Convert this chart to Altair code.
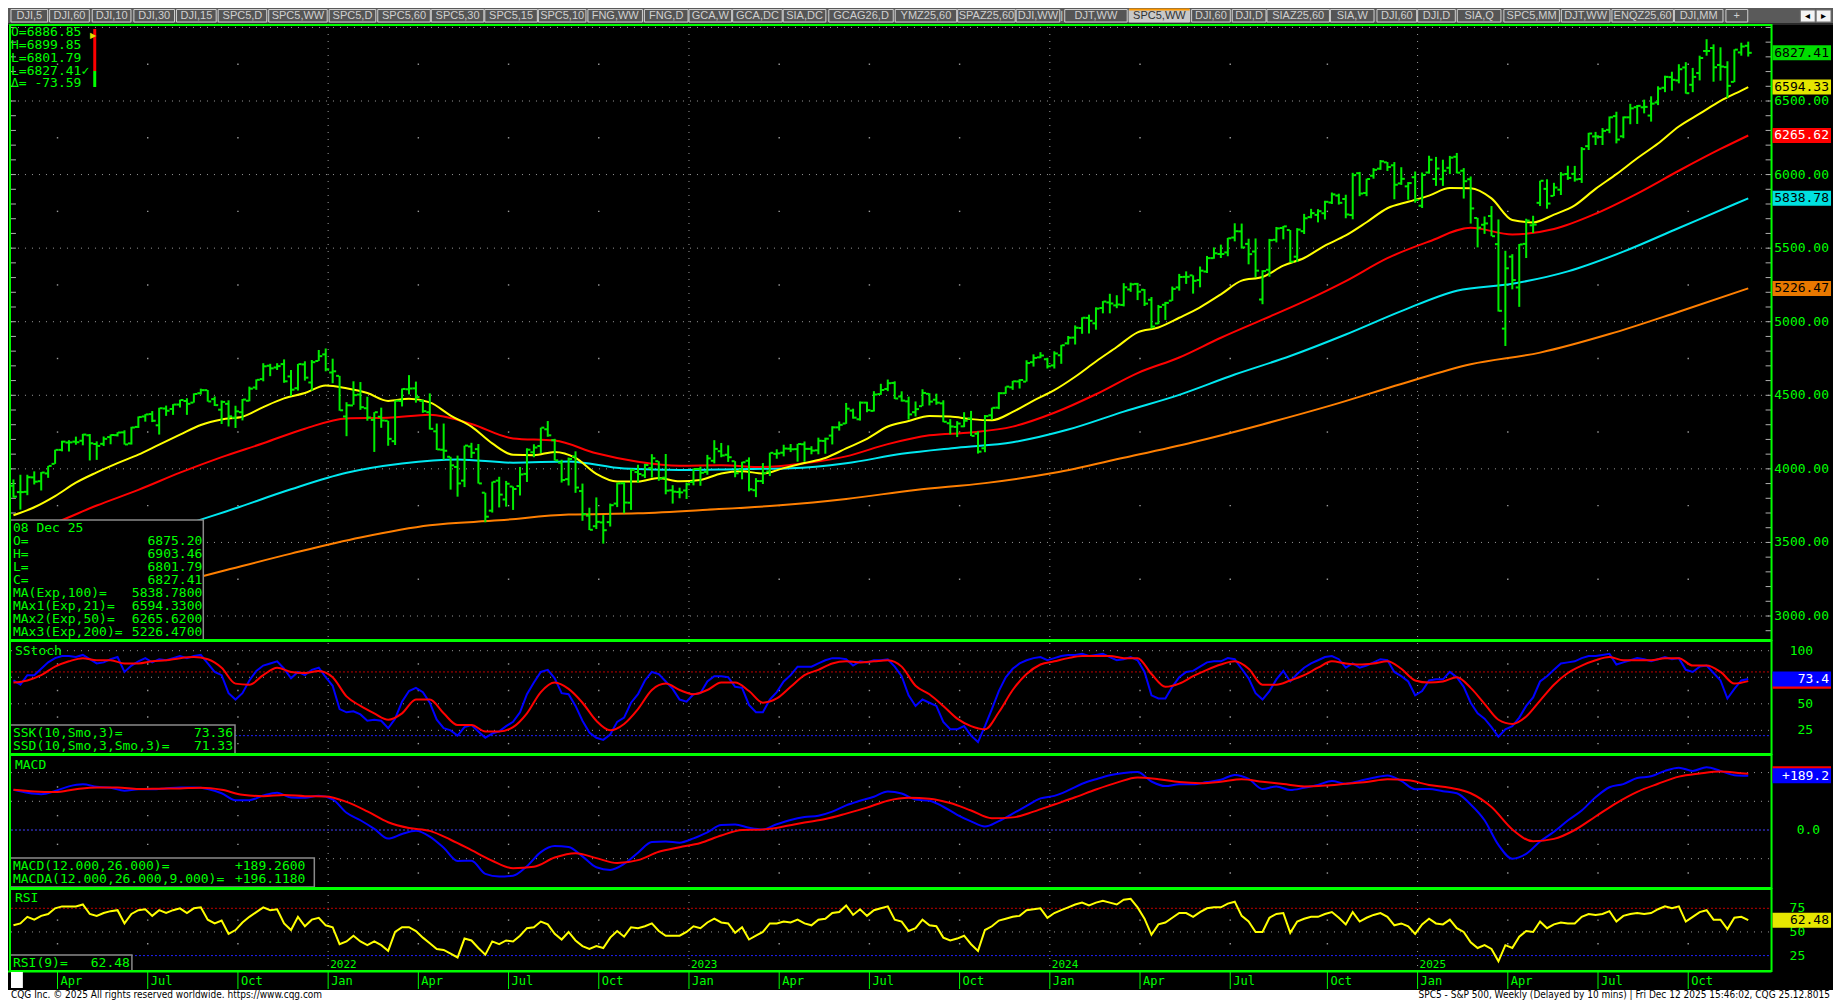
import pandas as pd
import altair as alt

# ---------------- weekly S&P 500 bars (week of 2021-02-22 ... week of 2025-12-08) ----------------
first_week = "2021-02-22"
opens = [3885, 3842, 3844, 3942, 3916, 3969, 4034, 4129, 4179, 4185,
         4191, 4228, 4169, 4170, 4216, 4229, 4248, 4173, 4285, 4356,
         4372, 4296, 4410, 4407, 4437, 4461, 4450, 4514, 4535, 4474,
         4402, 4442, 4348, 4385, 4463, 4553, 4610, 4701, 4689, 4712,
         4628, 4548, 4710, 4587, 4733,
         4778, 4655, 4632, 4356, 4431, 4505, 4412, 4333, 4354, 4327,
         4188, 4462, 4541, 4547, 4462, 4385, 4255, 4130, 4082, 4013,
         3920, 4152, 4134, 3838, 3716, 3920, 3792, 3880, 3883, 3966,
         4113, 4155, 4269, 4195, 4042, 3930, 4084, 3849, 3682, 3610,
         3636, 3638, 3764, 3902, 3770, 3978, 3956, 4005, 4052, 3940,
         3854, 3843,
         3853, 3911, 3999, 3979, 4055, 4120, 4096, 4052, 3992, 4055,
         3855, 3917, 3982, 4102, 4110, 4137, 4134, 4167, 4136, 4126,
         4190, 4226, 4282, 4308, 4396, 4337, 4450, 4394, 4508, 4543,
         4584, 4492, 4459, 4385, 4426, 4510, 4470, 4445, 4310, 4285,
         4289, 4343, 4239, 4140, 4364, 4416, 4514, 4554, 4594, 4593,
         4725, 4758,
         4745, 4703, 4772, 4853, 4892, 4957, 5026, 4989, 5093, 5131,
         5111, 5114, 5219, 5257, 5217, 5149, 4988, 5115, 5143, 5233,
         5305, 5315, 5283, 5341, 5432, 5460, 5471, 5572, 5614, 5529,
         5477, 5151, 5353, 5557, 5637, 5623, 5442, 5615, 5711, 5726,
         5737, 5810, 5857, 5834, 5725, 6009, 5875, 5992, 6040, 6083,
         6063, 5940, 5920,
         5982, 5788, 6014, 5970, 5969, 6046, 6121, 6026, 5968, 5705,
         5659, 5718, 5527, 4953, 5442, 5233, 5529, 5655, 5808, 5903,
         5855, 5897, 6004, 6005, 5970, 6193, 6259, 6256, 6304, 6397,
         6260, 6389, 6458, 6457, 6401, 6490, 6590, 6662, 6640, 6728,
         6610, 6690, 6840, 6860, 6745, 6730, 6630, 6830, 6875.20]
highs = [3928, 3960, 3960, 3983, 3978, 4020, 4130, 4191, 4195, 4219,
         4238, 4237, 4187, 4220, 4234, 4249, 4262, 4286, 4356, 4372,
         4393, 4415, 4430, 4440, 4470, 4480, 4513, 4545, 4536, 4492,
         4465, 4466, 4429, 4475, 4559, 4608, 4718, 4714, 4718, 4744,
         4672, 4713, 4731, 4740, 4808,
         4818, 4749, 4632, 4453, 4595, 4590, 4490, 4385, 4416, 4327,
         4465, 4546, 4637, 4593, 4471, 4513, 4308, 4308, 4082, 4090,
         4158, 4177, 4169, 3838, 3913, 3946, 3918, 3880, 4013, 4140,
         4167, 4280, 4325, 4204, 4062, 4077, 4119, 3900, 3736, 3806,
         3686, 3764, 3905, 3911, 4001, 4028, 4034, 4100, 4052, 4101,
         3889, 3872,
         3907, 4003, 4015, 4095, 4195, 4176, 4160, 4052, 4048, 4078,
         3937, 4039, 4110, 4133, 4164, 4169, 4170, 4186, 4154, 4212,
         4212, 4290, 4322, 4448, 4409, 4458, 4456, 4528, 4578, 4607,
         4595, 4527, 4491, 4458, 4541, 4514, 4511, 4466, 4338, 4324,
         4385, 4394, 4255, 4366, 4416, 4521, 4560, 4598, 4610, 4738,
         4778, 4793,
         4755, 4799, 4843, 4903, 4975, 5030, 5048, 5098, 5140, 5190,
         5180, 5262, 5265, 5264, 5222, 5168, 5114, 5135, 5239, 5325,
         5342, 5315, 5375, 5447, 5505, 5524, 5570, 5669, 5667, 5564,
         5566, 5350, 5563, 5644, 5651, 5623, 5636, 5733, 5767, 5765,
         5822, 5878, 5870, 5863, 6012, 6018, 5972, 6044, 6099, 6085,
         6085, 6050, 5949,
         6021, 6014, 6128, 6120, 6101, 6127, 6147, 6044, 5987, 5706,
         5715, 5786, 5695, 5482, 5459, 5528, 5700, 5720, 5958, 5968,
         5944, 6017, 6060, 6059, 6187, 6284, 6290, 6316, 6395, 6427,
         6395, 6481, 6473, 6509, 6532, 6600, 6672, 6699, 6750, 6764,
         6725, 6808, 6920, 6885, 6865, 6770, 6851, 6896, 6903.46]
lows = [3805, 3723, 3821, 3894, 3853, 3939, 4034, 4119, 4118, 4164,
        4160, 4057, 4061, 4155, 4167, 4220, 4165, 4165, 4278, 4321,
        4318, 4233, 4360, 4367, 4417, 4367, 4450, 4505, 4457, 4427,
        4305, 4288, 4278, 4329, 4459, 4537, 4595, 4630, 4672, 4585,
        4495, 4532, 4600, 4531, 4733,
        4663, 4582, 4395, 4222, 4435, 4401, 4327, 4115, 4279, 4157,
        4162, 4424, 4506, 4450, 4381, 4267, 4128, 4062, 3859, 3811,
        3876, 4073, 3900, 3637, 3703, 3738, 3743, 3721, 3819, 3911,
        4079, 4107, 4218, 4057, 3907, 3887, 3837, 3647, 3584, 3591,
        3492, 3608, 3740, 3698, 3721, 3906, 3938, 3940, 3919, 3827,
        3764, 3800,
        3795, 3888, 3885, 3960, 4037, 4079, 4047, 3943, 3929, 3847,
        3808, 3897, 3951, 4069, 4085, 4114, 4049, 4048, 4099, 4099,
        4103, 4166, 4260, 4306, 4341, 4328, 4385, 4390, 4503, 4528,
        4474, 4457, 4335, 4356, 4426, 4431, 4436, 4317, 4235, 4216,
        4283, 4223, 4104, 4113, 4335, 4406, 4510, 4537, 4546, 4593,
        4695, 4752,
        4682, 4682, 4714, 4845, 4845, 4918, 4920, 4946, 5057, 5057,
        5092, 5104, 5203, 5147, 5107, 4953, 4983, 5012, 5142, 5211,
        5257, 5191, 5234, 5331, 5428, 5433, 5445, 5546, 5497, 5390,
        5302, 5119, 5306, 5539, 5560, 5403, 5406, 5596, 5703, 5675,
        5695, 5800, 5796, 5703, 5696, 5853, 5853, 5972, 6032, 6024,
        5832, 5930, 5829,
        5809, 5773, 6006, 5923, 5923, 6003, 6008, 5837, 5667, 5505,
        5597, 5581, 5069, 4835, 5220, 5101, 5433, 5603, 5786, 5768,
        5854, 5861, 5964, 5952, 5943, 6167, 6201, 6201, 6281, 6212,
        6247, 6342, 6344, 6416, 6360, 6472, 6560, 6570, 6620, 6550,
        6560, 6640, 6808, 6631, 6638, 6521, 6628, 6808, 6801.79]
closes = [3811, 3842, 3943, 3913, 3975, 4020, 4129, 4185, 4180, 4181,
          4233, 4174, 4156, 4204, 4230, 4247, 4166, 4281, 4352, 4370,
          4327, 4412, 4395, 4437, 4468, 4442, 4509, 4535, 4458, 4433,
          4455, 4357, 4391, 4471, 4545, 4605, 4697, 4683, 4698, 4595,
          4538, 4712, 4620, 4725, 4766,
          4677, 4663, 4398, 4432, 4501, 4419, 4349, 4385, 4329, 4204,
          4463, 4543, 4546, 4488, 4392, 4272, 4132, 4123, 4024, 3901,
          4158, 4109, 3901, 3675, 3912, 3825, 3899, 3863, 3962, 4130,
          4145, 4280, 4228, 4058, 3924, 4067, 3873, 3693, 3586, 3640,
          3583, 3753, 3901, 3771, 3993, 3965, 4026, 4072, 3934, 3852,
          3845, 3840,
          3895, 3999, 3973, 4071, 4136, 4091, 4079, 3970, 4045, 3861,
          3917, 3971, 4109, 4105, 4138, 4133, 4169, 4136, 4124, 4191,
          4205, 4282, 4299, 4409, 4348, 4450, 4399, 4505, 4536, 4582,
          4478, 4464, 4370, 4406, 4516, 4457, 4450, 4320, 4288, 4308,
          4327, 4224, 4117, 4358, 4415, 4514, 4559, 4595, 4604, 4719,
          4754, 4770,
          4697, 4784, 4840, 4891, 4959, 5027, 5006, 5089, 5137, 5124,
          5117, 5234, 5254, 5204, 5123, 4967, 5100, 5128, 5223, 5304,
          5305, 5278, 5347, 5432, 5465, 5460, 5567, 5615, 5505, 5459,
          5347, 5344, 5554, 5634, 5648, 5408, 5626, 5703, 5738, 5751,
          5815, 5865, 5808, 5729, 5996, 5871, 5970, 6032, 6090, 6051,
          5931, 5971, 5942,
          5827, 5997, 6101, 6041, 6026, 6115, 6013, 5955, 5770, 5639,
          5668, 5581, 5074, 5363, 5283, 5525, 5687, 5660, 5958, 5803,
          5912, 6000, 5977, 5967, 6173, 6279, 6260, 6297, 6389, 6238,
          6389, 6450, 6467, 6460, 6482, 6584, 6664, 6644, 6716, 6553,
          6664, 6792, 6840, 6729, 6734, 6603, 6849, 6870, 6827.41]

# ---------------- moving averages (values along the drawn lines) ----------------
ma21_week = list(range(0, 250, 3)) + [250]
ma21 = [3685, 3739, 3815, 3906, 3976, 4039, 4097, 4165, 4232, 4298,
        4336, 4354, 4420, 4479, 4515, 4567, 4548, 4515, 4462, 4476,
        4452, 4362, 4287, 4173, 4096, 4093, 4115, 4075, 3966, 3914,
        3914, 3938, 3915, 3925, 3969, 3984, 3968, 4005, 4040, 4074,
        4139, 4204, 4288, 4325, 4359, 4356, 4338, 4330, 4387, 4464,
        4535, 4626, 4730, 4828, 4928, 4961, 5027, 5098, 5186, 5279,
        5304, 5381, 5433, 5517, 5586, 5676, 5771, 5815, 5857, 5908,
        5907, 5838, 5691, 5675, 5728, 5791, 5903, 6003, 6111, 6211,
        6327, 6414, 6501, 6571, 6594.33]
ma50_week = list(range(0, 250, 6)) + [250]
ma50 = [3540, 3633, 3751, 3857, 3974, 4080, 4174, 4273, 4343, 4347,
        4368, 4305, 4207, 4192, 4106, 4048, 4021, 4024, 4012, 4038,
        4085, 4168, 4228, 4247, 4287, 4381, 4507, 4651, 4757, 4891,
        5014, 5138, 5276, 5432, 5545, 5638, 5593, 5630, 5734, 5871,
        6026, 6174, 6265.62]
ma100_week = list(range(0, 250, 8)) + [250]
ma100 = [3230, 3348, 3474, 3608, 3732, 3861, 3973, 4036, 4064, 4042,
         4050, 4002, 3993, 3998, 4004, 4038, 4102, 4144, 4181, 4267,
         4389, 4503, 4641, 4767, 4913, 5072, 5211, 5258, 5342, 5476,
         5637, 5798, 5838.78]
ma200_week = list(range(0, 251, 10))
ma200 = [2966, 3070, 3183, 3304, 3424, 3534, 3617, 3650, 3689, 3698,
         3722, 3751, 3795, 3857, 3903, 3973, 4075, 4181, 4302, 4433,
         4577, 4711, 4790, 4916, 5068, 5226.47]

# ---------------- studies ----------------
ssk = [72, 68, 77, 77, 83, 89, 93, 95, 95, 94, 96, 92, 88, 89, 92, 94, 80, 86, 90, 93,
       89, 92, 91, 93, 95, 93, 95, 96, 88, 80, 77, 60, 54, 60, 72, 81, 86, 88, 90, 83,
       74, 80, 77, 82, 84, 75, 67, 45, 42, 43, 40, 34, 35, 34, 27, 36, 52, 62, 65, 61,
       51, 35, 27, 25, 20, 28, 30, 24, 18, 22, 24, 29, 33, 42, 59, 70, 80, 82, 74, 60,
       59, 48, 34, 23, 18, 16, 21, 33, 37, 51, 59, 72, 80, 78, 71, 64, 54, 52, 59, 60,
       71, 76, 76, 75, 66, 65, 49, 42, 42, 54, 61, 71, 77, 85, 85, 85, 88, 91, 93, 93,
       92, 86, 90, 89, 91, 91, 92, 85, 76, 58, 48, 54, 51, 48, 33, 26, 26, 29, 20, 14,
       29, 45, 62, 75, 83, 88, 91, 93, 94, 91, 93, 95, 96, 96, 97, 95, 96, 97, 94, 91,
       92, 94, 91, 80, 58, 55, 55, 66, 75, 80, 81, 85, 89, 90, 90, 93, 92, 83, 74, 60,
       54, 62, 73, 81, 71, 78, 84, 88, 91, 94, 95, 92, 84, 88, 84, 86, 89, 92, 91, 80,
       76, 71, 58, 62, 72, 73, 73, 80, 75, 66, 51, 41, 36, 28, 19, 26, 29, 37, 48, 56,
       71, 76, 82, 88, 89, 90, 93, 95, 95, 96, 97, 87, 89, 91, 93, 92, 90, 92, 94, 92,
       93, 82, 80, 85, 86, 79, 72, 55, 64, 72, 73.36]
ssd_week = list(range(0, 251, 2))
ssd = [70, 72, 77, 85, 90, 93, 91, 91, 88, 88, 90, 91, 93, 94, 92, 84, 69, 68, 77, 84,
       80, 79, 81, 75, 57, 48, 41, 35, 41, 54, 54, 41, 30, 30, 24, 24, 28, 41, 61, 70,
       64, 51, 34, 25, 31, 45, 63, 69, 63, 59, 63, 70, 70, 62, 51, 55, 66, 77, 82, 88,
       90, 89, 90, 91, 85, 67, 59, 48, 36, 29, 26, 42, 63, 78, 87, 90, 93, 95, 95, 95,
       93, 93, 78, 66, 69, 76, 82, 87, 90, 83, 68, 68, 72, 77, 84, 90, 88, 87, 88, 90,
       83, 72, 70, 71, 75, 65, 50, 35, 31, 38, 53, 68, 79, 86, 91, 94, 91, 91, 91, 93,
       93, 86, 86, 80, 69, 71.33]
macd_week = list(range(0, 251, 2))
macd = [140, 130, 125, 136, 152, 159, 151, 147, 137, 142, 142, 145, 148, 148, 143, 128,
        104, 104, 120, 130, 113, 112, 119, 107, 60, 34, 4, -30, -14, -3, -23, -62,
        -108, -107, -153, -162, -159, -126, -77, -56, -59, -92, -130, -139, -118, -79,
        -42, -40, -44, -29, -8, 17, 19, 8, 2, 20, 35, 45, 50, 64, 86, 102, 116, 134,
        127, 106, 102, 81, 53, 30, 12, 31, 57, 84, 110, 119, 138, 161, 177, 191, 199,
        202, 169, 153, 159, 159, 167, 175, 192, 178, 143, 152, 139, 147, 157, 171, 161,
        171, 182, 190, 171, 142, 143, 135, 128, 89, 34, -52, -100, -83, -40, -6, 33, 68,
        114, 149, 160, 181, 187, 206, 217, 206, 219, 206, 191, 189.26]
macda_week = list(range(0, 250, 3)) + [250]
macda = [140, 134, 132, 142, 148, 148, 143, 144, 145, 147, 140, 123, 118, 122, 118, 117,
         98, 65, 27, 7, -3, -34, -70, -107, -133, -128, -96, -81, -98, -115, -105, -76,
         -60, -45, -19, 0, 2, 12, 26, 38, 57, 78, 102, 112, 109, 94, 68, 41, 44, 64, 89,
         114, 141, 165, 183, 177, 167, 163, 168, 177, 168, 160, 152, 155, 161, 167, 177,
         173, 157, 147, 128, 80, 2, -39, -31, 0, 47, 94, 133, 161, 186, 197, 204, 198,
         196.118]
rsi9 = [57, 59, 66, 63, 67, 69, 75, 77, 77, 77, 79, 69, 67, 70, 72, 73, 59, 69, 73, 74,
        67, 73, 70, 73, 75, 70, 75, 76, 63, 59, 62, 48, 52, 60, 66, 71, 76, 73, 74, 59,
        52, 66, 56, 63, 65, 57, 55, 37, 40, 46, 40, 36, 40, 36, 30, 50, 55, 55, 51, 44,
        38, 32, 31, 27, 23, 43, 41, 33, 26, 40, 37, 41, 40, 46, 54, 55, 61, 58, 48, 42,
        50, 41, 35, 32, 35, 33, 44, 51, 45, 55, 54, 56, 59, 51, 46, 46, 46, 50, 56, 54,
        60, 64, 60, 59, 49, 55, 42, 46, 50, 59, 59, 61, 60, 63, 59, 57, 63, 64, 70, 71,
        78, 68, 74, 67, 73, 75, 77, 63, 61, 51, 54, 63, 57, 56, 44, 41, 43, 46, 37, 30,
        52, 56, 62, 64, 66, 67, 73, 74, 75, 65, 70, 73, 76, 79, 81, 78, 81, 83, 81, 79,
        84, 85, 76, 64, 47, 58, 60, 65, 70, 70, 66, 71, 75, 76, 76, 80, 82, 67, 61, 50,
        50, 65, 69, 70, 49, 61, 64, 66, 66, 69, 71, 65, 58, 71, 61, 65, 68, 70, 66, 57,
        59, 56, 48, 58, 64, 59, 58, 63, 54, 50, 39, 33, 36, 32, 19, 36, 33, 45, 51, 50,
        61, 54, 58, 60, 59, 59, 66, 69, 68, 69, 72, 61, 67, 69, 70, 69, 70, 74, 77, 75,
        77, 61, 66, 71, 73, 63, 63, 53, 65, 66, 62.48]

# ---------------- scale labels ----------------
price_ticks = [6500, 6000, 5500, 5000, 4500, 4000, 3500, 3000]
price_tick_text = ["6500.00", "6000.00", "5500.00", "5000.00", "4500.00", "4000.00", "3500.00", "3000.00"]
last_price_values = [6827.41, 6594.33, 6265.62, 5838.78, 5226.47]
last_price_text = ["6827.41", "6594.33", "6265.62", "5838.78", "5226.47"]

n = len(closes)

# ---------------- layout ----------------
W, HT = 1825, 992
XS = W / 1841.0
def X(rx): return rx * XS
def Y(ry): return ry - 8.0

GREEN = "#00ff00"
BAR = "#00ee00"
GRID = "#9a9a9a"
MONO = "DejaVu Sans Mono"

xsc = alt.Scale(domain=[0, 250], range=[X(5.5), X(1755.5)], nice=False, zero=False)
psc = alt.Scale(domain=[3000, 6500], range=[Y(616), Y(101)], nice=False, zero=False)
ssc = alt.Scale(domain=[0, 100], range=[Y(756.9), Y(650.7)], nice=False, zero=False)
msc = alt.Scale(domain=[0, 200], range=[Y(830), Y(772.6)], nice=False, zero=False)
rsc = alt.Scale(domain=[25, 75], range=[Y(955.6), Y(908.3)], nice=False, zero=False)

def XI(f="i"): return alt.X(f"{f}:Q", scale=xsc, axis=None)
def YS(f, sc): return alt.Y(f"{f}:Q", scale=sc, axis=None)

def px_rects(rows, **mk):
    df = pd.DataFrame(rows, columns=["x1", "x2", "y1", "y2", "f"])
    return alt.Chart(df).mark_rect(**mk).encode(
        x=alt.X("x1:Q", scale=None), x2="x2:Q",
        y=alt.Y("y1:Q", scale=None), y2="y2:Q",
        color=alt.Color("f:N", scale=None))

def px_texts(rows, **mk):
    df = pd.DataFrame(rows, columns=["t", "x", "y"])
    return alt.Chart(df).mark_text(baseline="middle", **mk).encode(
        x=alt.X("x:Q", scale=None), y=alt.Y("y:Q", scale=None), text="t:N")

def px_rules(rows, **mk):
    df = pd.DataFrame(rows, columns=["x1", "x2", "y1", "y2"])
    return alt.Chart(df).mark_rule(**mk).encode(
        x=alt.X("x1:Q", scale=None), x2="x2:Q",
        y=alt.Y("y1:Q", scale=None), y2="y2:Q")

layers = []

# ---- tab bar ----
TAB_LABELS = ["DJI,5", "DJI,60", "DJI,10", "DJI,30", "DJI,15", "SPC5,D", "SPC5,WW", "SPC5,D",
              "SPC5,60", "SPC5,30", "SPC5,15", "SPC5,10", "FNG,WW", "FNG,D", "GCA,W", "GCA,DC",
              "SIA,DC", "GCAG26,D", "YMZ25,60", "SPAZ25,60", "DJI,WW", "DJT,WW", "SPC5,WW",
              "DJI,60", "DJI,D", "SIAZ25,60", "SIA,W", "DJI,60", "DJI,D", "SIA,Q", "SPC5,MM",
              "DJT,WW", "ENQZ25,60", "DJI,MM", "+"]
TAB_LEFT = [3, 42, 85, 127, 170, 212, 263, 324, 373, 427, 481, 535, 585, 642, 687, 731, 782, 828,
            895, 958, 1017, 1066, 1131, 1194, 1235, 1270, 1334, 1381, 1422, 1462, 1509, 1567,
            1618, 1681, 1733]
TAB_RIGHT = [40, 82, 124, 168, 210, 261, 322, 371, 426, 480, 534, 583, 640, 686, 730, 781, 825,
             893, 957, 1016, 1061, 1129, 1192, 1233, 1269, 1333, 1378, 1421, 1460, 1506, 1565,
             1616, 1680, 1730, 1755]
SELECTED = 22
layers.append(px_rects([(0, W, 0, 16, "#5a5a5a")]))
tab_rows = [(X(a), X(b), 1.5, 14, "#c8c8c8" if k == SELECTED else "#555555")
            for k, (a, b) in enumerate(zip(TAB_LEFT, TAB_RIGHT))]
layers.append(px_rects(tab_rows, stroke="#d0d0d0", strokeWidth=1))
layers.append(px_rules([(X(TAB_LEFT[SELECTED]), X(TAB_RIGHT[SELECTED]), 1.5, 1.5)], color="#ff9900", strokeWidth=2))
layers.append(px_texts([(t, X((a + b) / 2), 8) for k, (t, a, b) in
                        enumerate(zip(TAB_LABELS, TAB_LEFT, TAB_RIGHT)) if k != SELECTED],
                       align="center", font="Liberation Sans", fontSize=11, color="#d0d0d0"))
layers.append(px_texts([(TAB_LABELS[SELECTED], X((TAB_LEFT[SELECTED] + TAB_RIGHT[SELECTED]) / 2), 8)],
                       align="center", font="Liberation Sans", fontSize=11, color="#303030"))
layers.append(px_texts([("|", X(1063), 8)], align="center", font="Liberation Sans", fontSize=11, color="#d0d0d0"))
layers.append(px_rects([(X(1808), X(1823), 2, 14, "#f4f4f4"), (X(1824), X(1839), 2, 14, "#f4f4f4")],
                       stroke="#707070", strokeWidth=1))
layers.append(px_texts([("◂", X(1815.5), 8), ("▸", X(1831.5), 8)],
                       align="center", fontSize=10, color="#000000"))
layers.append(px_rects([(0, W, 15, Y(25), "#2a2a2a")]))

# ---- grid ----
price_grid = [3000, 3500, 4000, 4500, 5000, 5500, 6000, 6500, 7000]
price_half = [3250, 3750, 4250, 4750, 5250, 5750, 6250, 6750]
price_minor = list(range(2900, 7100, 100))

def hgrid(levels, sc, color=GRID, dash=(1, 6)):
    return alt.Chart(pd.DataFrame({"v": levels})).mark_rule(
        color=color, strokeWidth=1, strokeDash=list(dash)).encode(
        y=YS("v", sc), x=alt.value(X(3)), x2=alt.value(X(1778)))

layers += [hgrid(price_grid, psc), hgrid([100, 75, 50, 25], ssc), hgrid([80], ssc, "#c00000", (2, 2)),
           hgrid([20], ssc, "#2020ff", (2, 2)), hgrid([200, 100, -100], msc),
           hgrid([0], msc, "#4040ff", (2, 2)), hgrid([50], rsc),
           hgrid([75], rsc, "#c00000", (2, 2)), hgrid([25], rsc, "#2020ff", (2, 2))]

minor_df = pd.DataFrame({"v": price_minor})
layers.append(alt.Chart(minor_df).mark_rule(color="#b0b0b0", strokeWidth=1).encode(
    y=YS("v", psc), x=alt.value(X(1773)), x2=alt.value(X(1779))))
layers.append(alt.Chart(minor_df).mark_rule(color="#b0b0b0", strokeWidth=1).encode(
    y=YS("v", psc), x=alt.value(X(2)), x2=alt.value(X(8))))

dates = pd.date_range(first_week, periods=n, freq="7D")
MONTHS = {1: "Jan", 4: "Apr", 7: "Jul", 10: "Oct"}
tick_pos, tick_lab, tick_yr = [], [], []
for j in range(1, n):
    if dates[j].month != dates[j - 1].month and dates[j].month in MONTHS:
        tick_pos.append(j + 0.35)
        tick_lab.append(MONTHS[dates[j].month])
        tick_yr.append(str(dates[j].year))
ticks_df = pd.DataFrame({"t": tick_pos, "lab": tick_lab, "yr": tick_yr})
year_df = ticks_df[ticks_df["lab"] == "Jan"]
quarter_df = ticks_df[ticks_df["lab"] != "Jan"]

layers.append(alt.Chart(year_df).mark_rule(color=GRID, strokeWidth=1, strokeDash=[1, 6]).encode(
    x=XI("t"), y=alt.value(Y(27)), y2=alt.value(Y(968))))

def sparse_dots(levels, sc):
    d = pd.DataFrame([(t, v) for t in quarter_df["t"] for v in levels], columns=["t", "v"])
    return alt.Chart(d).mark_square(size=2, color=GRID, opacity=1).encode(x=XI("t"), y=YS("v", sc))

layers += [sparse_dots(price_half, psc), sparse_dots([87.5, 62.5, 37.5, 12.5], ssc),
           sparse_dots([150, 50, -50, -150], msc), sparse_dots([62.5, 37.5], rsc)]

# ---- moving averages & bars ----
for wk, vals, colr in [(ma200_week, ma200, "#ff7f00"), (ma100_week, ma100, "#00e8f0"),
                       (ma50_week, ma50, "#ff0000"), (ma21_week, ma21, "#ffff00")]:
    layers.append(alt.Chart(pd.DataFrame({"i": wk, "m": vals})).mark_line(
        color=colr, strokeWidth=2, interpolate="monotone").encode(x=XI(), y=YS("m", psc)))

bars_df = pd.DataFrame({"i": range(n), "o": opens, "h": highs, "l": lows, "c": closes})
layers.append(alt.Chart(bars_df).mark_rule(color=BAR, strokeWidth=2).encode(
    x=XI(), y=YS("l", psc), y2="h:Q"))
layers.append(alt.Chart(bars_df).mark_rule(color=BAR, strokeWidth=2, xOffset=-3.5, x2Offset=-0.5).encode(
    x=XI(), x2="i:Q", y=YS("o", psc)))
layers.append(alt.Chart(bars_df).mark_rule(color=BAR, strokeWidth=2, xOffset=0.5, x2Offset=3.5).encode(
    x=XI(), x2="i:Q", y=YS("c", psc)))

# ---- studies ----
layers.append(alt.Chart(pd.DataFrame({"i": range(n), "k": ssk})).mark_line(
    color="#0000ff", strokeWidth=2).encode(x=XI(), y=YS("k", ssc)))
layers.append(alt.Chart(pd.DataFrame({"i": ssd_week, "d": ssd})).mark_line(
    color="#ff0000", strokeWidth=2, interpolate="monotone").encode(x=XI(), y=YS("d", ssc)))
layers.append(alt.Chart(pd.DataFrame({"i": macd_week, "m": macd})).mark_line(
    color="#0000ff", strokeWidth=2, interpolate="monotone").encode(x=XI(), y=YS("m", msc)))
layers.append(alt.Chart(pd.DataFrame({"i": macda_week, "a": macda})).mark_line(
    color="#ff0000", strokeWidth=2, interpolate="monotone").encode(x=XI(), y=YS("a", msc)))
layers.append(alt.Chart(pd.DataFrame({"i": range(n), "r": rsi9})).mark_line(
    color="#ffff00", strokeWidth=2).encode(x=XI(), y=YS("r", rsc)))

# ---- info boxes ----
layers.append(px_rects([(X(2), X(197), Y(520), Y(640), "#000000"),
                        (X(2), X(229), Y(725), Y(754), "#000000"),
                        (X(2), X(309), Y(858), Y(887), "#000000"),
                        (X(2), X(125), Y(955), Y(971), "#000000")],
                       stroke="#8a8a8a", strokeWidth=1.5))
info_left = [("08 Dec 25", X(5), Y(527.5)), ("O=", X(5), Y(540.5)), ("H=", X(5), Y(553.5)),
             ("L=", X(5), Y(566.5)), ("C=", X(5), Y(579.5)), ("MA(Exp,100)=", X(5), Y(592.5)),
             ("MAx1(Exp,21)=", X(5), Y(605.5)), ("MAx2(Exp,50)=", X(5), Y(618.5)),
             ("MAx3(Exp,200)=", X(5), Y(631.5)),
             ("SSK(10,Smo,3)=", X(5), Y(733)), ("SSD(10,Smo,3,Smo,3)=", X(5), Y(746)),
             ("MACD(12.000,26.000)=", X(5), Y(866)), ("MACDA(12.000,26.000,9.000)=", X(5), Y(879)),
             ("RSI(9)=", X(5), Y(963)),
             ("SStoch", X(7), Y(651)), ("MACD", X(7), Y(764.5)), ("RSI", X(7), Y(897.5)),
             ("O=6886.85", X(3), Y(32.3)), ("H=6899.85", X(3), Y(44.5)), ("L=6801.79", X(3), Y(57.7)),
             ("L=6827.41✓", X(3), Y(70.7)), ("Δ= -73.59", X(3), Y(83.3))]
info_right = [("6875.20", X(196), Y(540.5)), ("6903.46", X(196), Y(553.5)), ("6801.79", X(196), Y(566.5)),
              ("6827.41", X(196), Y(579.5)), ("5838.7800", X(196), Y(592.5)), ("6594.3300", X(196), Y(605.5)),
              ("6265.6200", X(196), Y(618.5)), ("5226.4700", X(196), Y(631.5)),
              ("73.36", X(227), Y(733)), ("71.33", X(227), Y(746)),
              ("+189.2600", X(300), Y(866)), ("+196.1180", X(300), Y(879)),
              ("62.48", X(123), Y(963))]
layers.append(px_texts(info_left, align="left", font=MONO, fontSize=13, color=GREEN))
layers.append(px_texts(info_right, align="right", font=MONO, fontSize=13, color=GREEN))
layers.append(px_rects([(X(86), X(89), Y(29), Y(71), "#ff0000"), (X(86), X(89), Y(71), Y(87), "#00ff00")]))
layers.append(px_texts([("▶", X(86), Y(36))], align="center", fontSize=8, color="#e0e000"))

# ---- panel borders ----
layers.append(px_rects([(X(2), X(1779), Y(25), Y(640), GREEN), (X(2), X(1779), Y(641), Y(754), GREEN),
                        (X(2), X(1779), Y(755), Y(888), GREEN), (X(2), X(1779), Y(889), Y(971), GREEN)],
                       filled=False, strokeWidth=2))

# ---- right scale labels ----
def rlabels(vals, texts, sc, xr):
    return alt.Chart(pd.DataFrame({"v": vals, "t": texts})).mark_text(
        align="right", baseline="middle", font=MONO, fontSize=13, color=GREEN).encode(
        x=alt.value(X(xr)), y=YS("v", sc), text="t:N")

layers.append(rlabels(price_ticks, price_tick_text, psc, 1837))
layers.append(rlabels([100, 50, 25], ["100", "50", "25"], ssc, 1821))
layers.append(rlabels([0], ["0.0"], msc, 1828))
layers.append(rlabels([75, 50, 25], ["75", "50", "25"], rsc, 1813))

def vboxes(vals, fills, sc):
    df = pd.DataFrame({"v": vals, "f": fills})
    return alt.Chart(df).mark_rect(yOffset=-7.5, y2Offset=7.5).encode(
        x=alt.value(X(1780)), x2=alt.value(X(1839)), y=YS("v", sc), y2="v:Q",
        color=alt.Color("f:N", scale=None))

def vtexts(vals, texts, fg, sc):
    df = pd.DataFrame({"v": vals, "t": texts, "c": fg})
    return alt.Chart(df).mark_text(align="right", baseline="middle", font=MONO, fontSize=13).encode(
        x=alt.value(X(1837)), y=YS("v", sc), text="t:N", color=alt.Color("c:N", scale=None))

layers.append(vboxes(last_price_values, ["#00dd00", "#e6e600", "#ff0000", "#00e0e0", "#e87800"], psc))
layers.append(vtexts(last_price_values, last_price_text,
                     ["#000000", "#000000", "#ffffff", "#000000", "#000000"], psc))
layers.append(vboxes([ssd[-1]], ["#ff0000"], ssc))
layers.append(vboxes([ssk[-1]], ["#0000ff"], ssc))
layers.append(vtexts([ssk[-1]], ["73.4"], ["#ffffff"], ssc))
layers.append(vboxes([macda[-1]], ["#ff0000"], msc))
layers.append(vboxes([macd[-1]], ["#0000ff"], msc))
layers.append(vtexts([macd[-1]], ["+189.2"], ["#ffffff"], msc))
layers.append(vboxes([rsi9[-1]], ["#e6e600"], rsc))
layers.append(vtexts([rsi9[-1]], ["62.48"], ["#000000"], rsc))

# ---- time axis row ----
layers.append(px_rules([(X(0), X(1779), Y(971.5), Y(971.5))], color=GREEN, strokeWidth=2))
layers.append(alt.Chart(ticks_df).mark_rule(color=GREEN, strokeWidth=1).encode(
    x=XI("t"), y=alt.value(Y(972)), y2=alt.value(Y(989))))
layers.append(alt.Chart(ticks_df).mark_text(align="left", baseline="middle", dx=3, font=MONO,
                                            fontSize=12, color=GREEN).encode(
    x=XI("t"), y=alt.value(Y(980.5)), text="lab:N"))
layers.append(alt.Chart(year_df).mark_text(align="left", baseline="middle", dx=2, font=MONO,
                                           fontSize=11, color=GREEN).encode(
    x=XI("t"), y=alt.value(Y(964.5)), text="yr:N"))
layers.append(px_rects([(X(3), X(15), Y(972), Y(988), "#ffffff")]))

# ---- footer ----
layers.append(px_rects([(0, W, Y(990), HT, "#ffffff")]))
layers.append(px_texts([("CQG Inc. © 2025 All rights reserved worldwide. https://www.cqg.com", X(3), HT - 5)],
                       align="left", font="DejaVu Sans Condensed", fontSize=10, color="#000000"))
layers.append(px_texts([("SPC5 - S&P 500, Weekly (Delayed by 10 mins) | Fri Dec 12 2025 15:46:02, CQG 25.12.8015",
                         X(1838), HT - 5)],
                       align="right", font="DejaVu Sans Condensed", fontSize=10, color="#000000"))

chart = alt.layer(*layers).resolve_scale(x="independent", y="independent").properties(
    width=W, height=HT, padding=0, background="#000000",
    autosize=alt.AutoSizeParams(type="none")).configure_view(strokeWidth=0)

chart.save("out.html", embed_options={"renderer": "svg", "actions": False})
